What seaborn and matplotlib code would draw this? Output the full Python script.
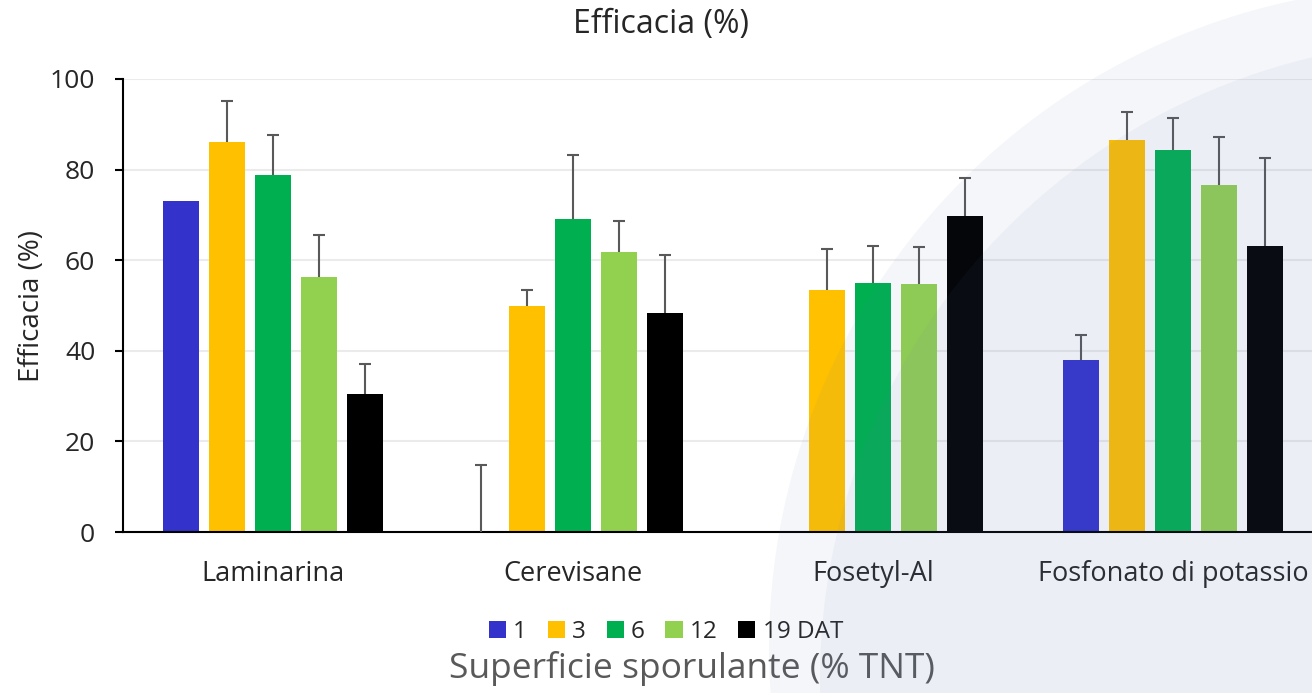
import numpy as np
import pandas as pd
import seaborn as sns
import matplotlib.pyplot as plt
from matplotlib.patches import Circle

# Data
prodotti = ['Laminarina', 'Cerevisane', 'Fosetyl-Al', 'Fosfonato di potassio']
giorni = ['1', '3', '6', '12', '19 DAT']

eff_1 = [73.0, 0.0, np.nan, 38.0]
eff_3 = [86.2, 49.9, 53.4, 86.5]
eff_6 = [78.7, 69.0, 55.0, 84.3]
eff_12 = [56.4, 61.7, 54.7, 76.5]
eff_19 = [30.5, 48.3, 69.8, 63.1]

# upper error (standard error) for each bar
err_1 = [0.0, 14.9, np.nan, 5.5]
err_3 = [9.0, 3.6, 9.0, 6.2]
err_6 = [9.0, 14.3, 8.2, 7.0]
err_12 = [9.2, 6.9, 8.2, 10.7]
err_19 = [6.5, 12.8, 8.4, 19.5]

colori = ['#3333CC', '#FFC000', '#00B050', '#92D050', '#000000']

valori = [eff_1, eff_3, eff_6, eff_12, eff_19]
errori = [err_1, err_3, err_6, err_12, err_19]

# Build long-form table
rows = []
for g, vals in zip(giorni, valori):
    for p, v in zip(prodotti, vals):
        rows.append({'prodotto': p, 'giorni': g, 'efficacia': v})
df = pd.DataFrame(rows).dropna()

sns.set_style('white')
plt.rcParams['font.family'] = ['Open Sans', 'DejaVu Sans']

fig = plt.figure(figsize=(13.12, 6.93), dpi=100)
ax = fig.add_axes([123 / 1312, 1 - 532 / 693, 1200 / 1312, 453 / 693])

sns.barplot(data=df, x='prodotto', y='efficacia', hue='giorni',
            order=prodotti, hue_order=giorni, palette=colori,
            width=0.767, gap=0.22, errorbar=None, linewidth=0,
            saturation=1, ax=ax, zorder=2)

# error bars (upper only)
for container, errs in zip(ax.containers, errori):
    xs, ys, es = [], [], []
    for bar in container:
        xc = bar.get_x() + bar.get_width() / 2
        e = errs[int(round(xc))]
        if np.isnan(e) or e == 0:
            continue
        xs.append(xc)
        ys.append(bar.get_height())
        es.append(e)
    if not xs:
        continue
    _, caps, _ = ax.errorbar(xs, ys, yerr=[np.zeros(len(es)), es], fmt='none',
                             ecolor='#595959', elinewidth=1.5, capsize=4.3,
                             capthick=1.5, zorder=3)
    caps[0].set_visible(False)  # hide the cap sitting on the bar top

ax.set_ylim(0, 100)
ax.set_xlim(-0.5, 3.5)
ax.set_yticks([0, 20, 40, 60, 80, 100])
ax.yaxis.grid(True, color='#EBEBEB', linewidth=1.5, zorder=0)
ax.set_axisbelow(True)
for s in ['top', 'right']:
    ax.spines[s].set_visible(False)
for s in ['left', 'bottom']:
    ax.spines[s].set_color('black')
    ax.spines[s].set_linewidth(1.5)
ax.tick_params(axis='y', left=True, length=6, width=1.5, color='black',
               labelsize=19, pad=14)
ax.tick_params(axis='x', bottom=False, labelsize=19.5, pad=17)
ax.set_xlabel('')
ax.set_ylabel('')

handles, labels = ax.get_legend_handles_labels()
ax.legend(handles, labels, loc='center', bbox_to_anchor=(666 / 1312, 1 - 632 / 693),
          bbox_transform=fig.transFigure, ncol=5, frameon=False, fontsize=17.5,
          handlelength=0.7, handleheight=0.7, handletextpad=0.3,
          columnspacing=0.85, borderpad=0)

fig.text(661 / 1312, 1 - 25 / 693, 'Efficacia (%)', ha='center', va='center',
         fontsize=23)
fig.text(32 / 1312, 1 - 306 / 693, 'Efficacia (%)', ha='center', va='center',
         rotation=90, fontsize=20)
fig.text(692 / 1312, 1 - 668 / 693, 'Superficie sporulante (% TNT)', ha='center',
         va='center', fontsize=25.5, color='#595959')

# decorative background shape on the right
outer = Circle((14.31, 0.45), 6.62, transform=fig.dpi_scale_trans,
               facecolor='#5C75B7', alpha=0.06, linewidth=0, zorder=10)
inner = Circle((14.60, 0.13), 6.40, transform=fig.dpi_scale_trans,
               facecolor='#5C75B7', alpha=0.06, linewidth=0, zorder=10)
fig.add_artist(outer)
fig.add_artist(inner)

fig.savefig('out.png', dpi=100)
